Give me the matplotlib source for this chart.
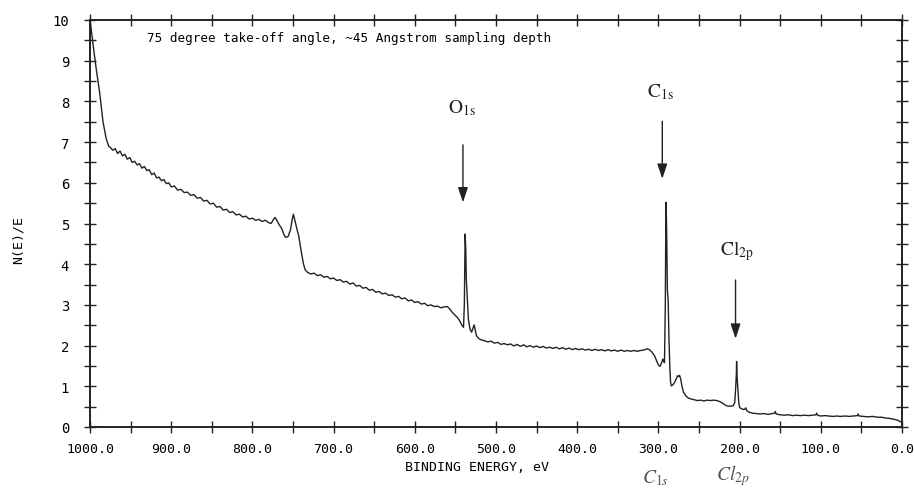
import matplotlib
matplotlib.use("Agg")
import matplotlib.pyplot as plt
from matplotlib.ticker import MultipleLocator, FuncFormatter

# binding energy (eV) and N(E)/E
energy = [1000, 998, 995, 992, 988, 984, 980, 977,
          975, 972, 969, 966, 963, 960, 957, 954, 951, 948, 945, 942, 939, 936,
          933, 930, 927, 924, 921, 918, 915, 912, 909, 906, 903, 900, 896, 892,
          888, 884, 880, 876, 872, 868, 864, 860, 856, 852, 848, 844, 840, 836,
          832, 828, 824, 820, 816, 812, 808, 804, 800, 796, 792, 788, 784, 780,
          777, 774, 772, 770, 767, 764, 761, 759, 756, 753, 751, 749.5, 748,
          745, 743, 741, 739, 737, 735, 732,
          728, 724, 720, 716, 712, 708, 704, 700, 696, 692, 688, 684, 680, 676,
          672, 668, 664, 660, 656, 652, 648, 644, 640, 636, 632, 628, 624, 620,
          616, 612, 608, 604, 600, 596, 592, 588, 584, 580, 576, 572, 568, 564,
          560, 557, 554, 551, 548, 545, 542, 540, 539, 538, 537.3, 536.5, 535.5,
          534, 532, 530, 528.5, 527, 525.5, 524, 521, 518,
          514, 510, 506, 502, 498, 494, 490, 486, 482, 478, 474, 470, 466, 462,
          458, 454, 450, 446, 442, 438, 434, 430, 426, 422, 418, 414, 410, 406,
          402, 398, 394, 390, 386, 382, 378, 374, 370, 366, 362, 358, 354, 350,
          346, 342, 338, 334, 330, 326, 322, 318, 314, 311, 308, 305, 302, 300,
          298, 296, 294.5, 293.5, 292.5, 291.5, 290.7, 290, 289.5, 289, 288,
          287, 286, 285, 284, 282, 280, 278, 276.5, 275, 274, 272.5, 271, 269,
          266, 263, 260, 256, 252, 248, 244, 240, 236, 232, 228, 224, 220, 216,
          212, 208, 206, 205, 204, 203.7, 203.2, 202.7, 202, 201, 200, 197, 194,
          192.5, 191, 188, 184, 180, 175, 170, 165, 160, 157, 156, 155, 150,
          145, 140, 135, 130, 125, 120, 115, 110, 106, 105, 104, 100, 95, 90,
          85, 80, 76, 70, 65, 60, 55, 54, 53, 48, 42, 36, 30, 25, 20, 15, 10,
          6, 3, 1]
counts = [10.0, 9.7, 9.2, 8.75, 8.2, 7.5, 7.08, 6.9,
          6.87, 6.80, 6.84, 6.72, 6.78, 6.66, 6.70, 6.58, 6.62, 6.50, 6.53, 6.44,
          6.47, 6.36, 6.40, 6.30, 6.32, 6.20, 6.24, 6.12, 6.14, 6.05, 6.08, 5.98,
          6.00, 5.90, 5.92, 5.82, 5.84, 5.76, 5.77, 5.69, 5.71, 5.62, 5.64, 5.55,
          5.57, 5.48, 5.50, 5.40, 5.42, 5.33, 5.35, 5.27, 5.29, 5.21, 5.23, 5.16,
          5.18, 5.11, 5.13, 5.08, 5.10, 5.05, 5.08, 5.02,
          5.00, 5.10, 5.15, 5.08, 4.97, 4.88, 4.72, 4.66, 4.68, 4.85, 5.10, 5.23,
          5.10, 4.85, 4.70, 4.45, 4.21, 4.00, 3.86, 3.80,
          3.76, 3.78, 3.72, 3.74, 3.68, 3.70, 3.64, 3.66, 3.60, 3.62, 3.56, 3.58,
          3.51, 3.54, 3.46, 3.48, 3.41, 3.43, 3.36, 3.38, 3.31, 3.33, 3.27, 3.29,
          3.23, 3.25, 3.19, 3.21, 3.15, 3.17, 3.10, 3.12, 3.06, 3.08, 3.02, 3.04,
          2.98, 3.00, 2.96, 2.97, 2.93, 2.95, 2.96, 2.90, 2.82, 2.76, 2.70, 2.62,
          2.50, 2.45, 3.0, 4.74, 4.4, 3.6, 3.2, 2.65, 2.40, 2.33, 2.42, 2.51,
          2.38, 2.24, 2.17, 2.14,
          2.12, 2.09, 2.11, 2.06, 2.08, 2.03, 2.05, 2.02, 2.04, 1.99, 2.03, 1.98,
          2.02, 1.97, 2.00, 1.96, 1.99, 1.95, 1.98, 1.94, 1.96, 1.93, 1.96, 1.92,
          1.95, 1.91, 1.94, 1.90, 1.93, 1.90, 1.92, 1.89, 1.91, 1.88, 1.91, 1.88,
          1.90, 1.87, 1.90, 1.87, 1.89, 1.86, 1.89, 1.86, 1.88, 1.86, 1.88, 1.86,
          1.88, 1.89, 1.92, 1.90, 1.84, 1.76, 1.62, 1.52, 1.49, 1.58, 1.67, 1.62,
          1.58, 3.0, 5.52, 5.0, 4.3, 3.39, 3.1, 2.2, 1.5, 1.10, 1.01, 1.04, 1.10,
          1.18, 1.26, 1.24, 1.27, 1.18, 1.0, 0.85, 0.76, 0.71, 0.69, 0.67, 0.65,
          0.66, 0.64, 0.66, 0.65, 0.66, 0.65, 0.62, 0.57, 0.52, 0.51, 0.52, 0.60,
          0.9, 1.3, 1.61, 1.3, 1.10, 0.9, 0.6, 0.48, 0.44, 0.43, 0.47, 0.40,
          0.36, 0.34, 0.33, 0.32, 0.33, 0.31, 0.33, 0.34, 0.38, 0.32, 0.30, 0.29,
          0.30, 0.28, 0.29, 0.28, 0.29, 0.28, 0.29, 0.30, 0.34, 0.29, 0.27, 0.28,
          0.27, 0.26, 0.27, 0.26, 0.27, 0.26, 0.27, 0.28, 0.32, 0.27, 0.26, 0.25,
          0.26, 0.24, 0.24, 0.22, 0.21, 0.19, 0.17, 0.14, 0.12]

# peak labels: (text, label x, label y, arrow x, arrow top, arrow tip)
peaks = [(r"$\mathrm{O_{1s}}$", 542, 7.86, 540.7, 7.0, 5.45),
         (r"$\mathrm{C_{1s}}$", 298, 8.26, 295.2, 7.58, 6.03),
         (r"$\mathrm{Cl_{2p}}$", 203, 4.35, 205, 3.68, 2.10)]

title = "75 degree take-off angle, ~45 Angstrom sampling depth"

mono = "DejaVu Sans Mono"
plt.rcParams["mathtext.fontset"] = "stix"

fig = plt.figure(figsize=(9.14, 4.89), dpi=100)
ax = fig.add_axes([90 / 914, 61 / 489, 812 / 914, 407 / 489])

ax.plot(energy, counts, color="#222222", lw=1.0)
ax.set_xlim(1000, 0)
ax.set_ylim(0, 10)

ax.xaxis.set_major_locator(MultipleLocator(100))
ax.xaxis.set_minor_locator(MultipleLocator(50))
ax.yaxis.set_major_locator(MultipleLocator(1))
ax.yaxis.set_minor_locator(MultipleLocator(0.5))
ax.xaxis.set_major_formatter(FuncFormatter(lambda v, p: "%.1f" % v))
ax.yaxis.set_major_formatter(FuncFormatter(lambda v, p: "%d" % v))

ax.tick_params(which="both", direction="inout", length=8, width=1,
               top=True, right=True, color="#222222")
ax.tick_params(axis="x", pad=7, labelsize=9.5)
ax.tick_params(axis="y", pad=11, labelsize=10)
for lab in ax.get_xticklabels() + ax.get_yticklabels():
    lab.set_fontfamily(mono)
for s in ax.spines.values():
    s.set_linewidth(1.4)
    s.set_color("#222222")

ax.text(930, 9.58, title, fontsize=9.1, family=mono, ha="left", va="center")

for lab, tx, ty, axx, a0, a1 in peaks:
    ax.text(tx, ty, lab, fontsize=14, ha="center", va="center", color="#222222")
    ax.annotate("", xy=(axx, a1), xytext=(axx, a0),
                arrowprops=dict(arrowstyle="-|>,head_width=0.3,head_length=0.9",
                                color="#222222", lw=1.0, mutation_scale=10))

fig.text(477 / 914, 1 - 468 / 489, "BINDING ENERGY, eV", family=mono,
         fontsize=9.5, ha="center", va="center")
fig.text(18 / 914, 1 - 240 / 489, "N(E)/E", family=mono, fontsize=9.5,
         rotation=90, ha="center", va="center")

# handwritten note at the bottom edge of the scan
fig.text(642 / 914, 1 / 489, r"$\mathit{C_{1s}}$", fontsize=14, color="#555555",
         ha="left", va="bottom")
fig.text(716 / 914, 1 / 489, r"$\mathit{Cl_{2p}}$", fontsize=14, color="#555555",
         ha="left", va="bottom")

fig.savefig("out.png", dpi=100)
